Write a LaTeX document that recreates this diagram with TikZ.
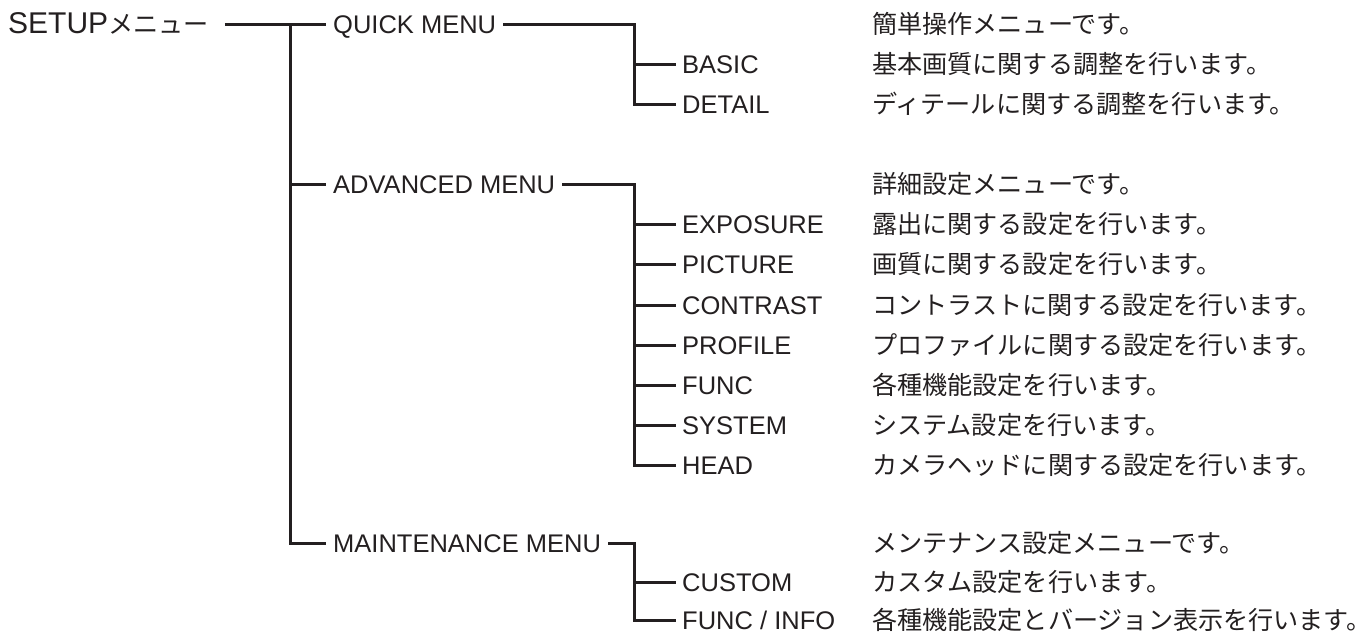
\documentclass[tikz,border=0pt]{standalone}
\usepackage{fontspec}
\setmainfont{Liberation Sans}
\newfontfamily\jp[Scale=1.005]{Noto Sans CJK JP}
\definecolor{ink}{HTML}{231F20}

\begin{document}
\begin{tikzpicture}[
    x=1pt, y=-1pt,
    entry/.style={inner sep=0pt, anchor=west, text height=20pt, text depth=2pt, text=ink, font=\fontsize{25.5}{30}\selectfont},
    desc/.style={entry, font=\fontsize{25}{30}\selectfont\jp},
    wire/.style={draw=ink, line width=3pt}
]
\useasboundingbox (0,0) rectangle (1370,636);

% root and menus
\node[entry] (root) at (8,25) {{\fontsize{30}{34}\selectfont SETUP}{\jp\fontsize{25}{30}\selectfont メニュー}};
\node[entry] (quick) at (333,25) {QUICK MENU};
\node[entry] (adv) at (333,185) {ADVANCED MENU};
\node[entry] (maint) at (333,543) {MAINTENANCE MENU};

% sub items
\node[entry] (basic) at (682,65) {BASIC};
\node[entry] (detail) at (682,105) {DETAIL};
\node[entry] (expo) at (682,225) {EXPOSURE};
\node[entry] (pict) at (682,265) {PICTURE};
\node[entry] (contr) at (682,305) {CONTRAST};
\node[entry] (prof) at (682,345) {PROFILE};
\node[entry] (func) at (682,385) {FUNC};
\node[entry] (sys) at (682,425) {SYSTEM};
\node[entry] (head) at (682,465) {HEAD};
\node[entry] (custom) at (682,582) {CUSTOM};
\node[entry] (finfo) at (682,620) {FUNC / INFO};

% descriptions
\node[desc] (dquick) at (872,25) {簡単操作メニューです。};
\node[desc] (dbasic) at (872,65) {基本画質に関する調整を行います。};
\node[desc] (ddetail) at (872,105) {ディテールに関する調整を行います。};
\node[desc] (dadv) at (872,185) {詳細設定メニューです。};
\node[desc] (dexpo) at (872,225) {露出に関する設定を行います。};
\node[desc] (dpict) at (872,265) {画質に関する設定を行います。};
\node[desc] (dcontr) at (872,305) {コントラストに関する設定を行います。};
\node[desc] (dprof) at (872,345) {プロファイルに関する設定を行います。};
\node[desc] (dfunc) at (872,385) {各種機能設定を行います。};
\node[desc] (dsys) at (872,425) {システム設定を行います。};
\node[desc] (dhead) at (872,465) {カメラヘッドに関する設定を行います。};
\node[desc] (dmaint) at (872,543) {メンテナンス設定メニューです。};
\node[desc] (dcustom) at (872,582) {カスタム設定を行います。};
\node[desc] (dfinfo) at (872,620) {各種機能設定とバージョン表示を行います。};

% junctions
\coordinate (trunk) at (290,25);
\coordinate (jq) at (634,25);
\coordinate (ja) at (634,185);
\coordinate (jm) at (634,543);

% root to menus
\draw[wire] ([xshift=16pt]root.east) -- ([xshift=-7pt]quick.west);
\draw[wire] (trunk) |- ([xshift=-7pt]maint.west);
\draw[wire] (trunk |- adv.west) -- ([xshift=-7pt]adv.west);

% quick menu
\draw[wire] ([xshift=7pt]quick.east) -- (jq) |- ([xshift=-6pt]detail.west);
\draw[wire] (jq |- basic.west) -- ([xshift=-6pt]basic.west);

% advanced menu
\draw[wire] ([xshift=7pt]adv.east) -- (ja) |- ([xshift=-6pt]head.west);
\draw[wire] (ja |- expo.west) -- ([xshift=-6pt]expo.west);
\draw[wire] (ja |- pict.west) -- ([xshift=-6pt]pict.west);
\draw[wire] (ja |- contr.west) -- ([xshift=-6pt]contr.west);
\draw[wire] (ja |- prof.west) -- ([xshift=-6pt]prof.west);
\draw[wire] (ja |- func.west) -- ([xshift=-6pt]func.west);
\draw[wire] (ja |- sys.west) -- ([xshift=-6pt]sys.west);

% maintenance menu
\draw[wire] ([xshift=7pt]maint.east) -- (jm) |- ([xshift=-6pt]finfo.west);
\draw[wire] (jm |- custom.west) -- ([xshift=-6pt]custom.west);
\end{tikzpicture}
\end{document}
